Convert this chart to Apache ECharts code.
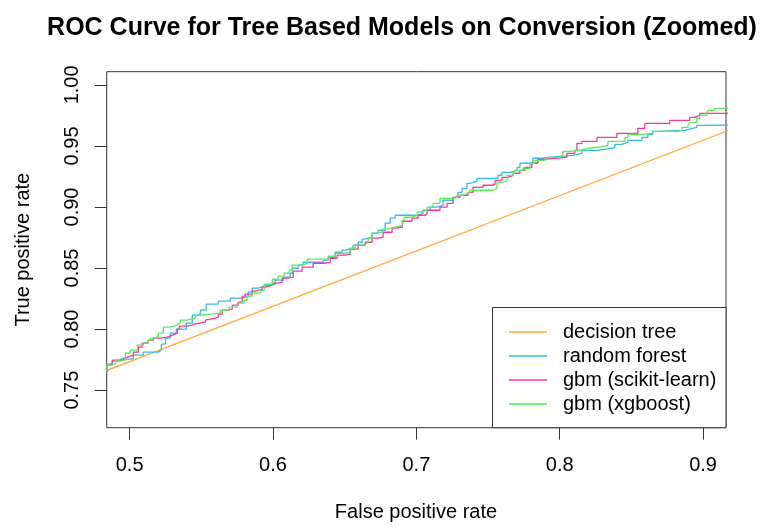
<!DOCTYPE html>
<html>
<head>
<meta charset="utf-8">
<script src="https://cdn.jsdelivr.net/npm/echarts@6/dist/echarts.min.js"></script>
<style>
html,body{margin:0;padding:0;background:#fff;}
#chart{width:762px;height:528px;}
</style>
</head>
<body>
<div id="chart"></div>
<script>
// ---- data ----
const seriesNames = ['decision tree', 'random forest', 'gbm (scikit-learn)', 'gbm (xgboost)'];
const xTicks = [0.5, 0.6, 0.7, 0.8, 0.9];
const yTicks = [0.75, 0.80, 0.85, 0.90, 0.95, 1.00];

// decision tree: single operating point, straight ROC
const dtFpr = [0, 0.15, 1];
const dtTpr = [0, 0.6147, 1];

// random forest
const rfFpr = [0.47, 0.4843, 0.4879, 0.4935, 0.5026, 0.5095, 0.5200, 0.5221, 0.5249, 0.5284, 0.5325, 0.5395, 0.5437, 0.5493, 0.5534, 0.5618, 0.5702, 0.5785, 0.5827, 0.5855, 0.5897, 0.5939, 0.6015, 0.6071, 0.6120, 0.6134, 0.6176, 0.6210, 0.6350, 0.6385, 0.6433, 0.6482, 0.6503, 0.6559, 0.6594, 0.6622, 0.6643, 0.6691, 0.6733, 0.6782, 0.6817, 0.6852, 0.7005, 0.7046, 0.7095, 0.7144, 0.7186, 0.7256, 0.7291, 0.7318, 0.7353, 0.7374, 0.7423, 0.7569, 0.7597, 0.7653, 0.7702, 0.7723, 0.7778, 0.7813, 0.7883, 0.7918, 0.8092, 0.8155, 0.8266, 0.8364, 0.8385, 0.8433, 0.8475, 0.8573, 0.8615, 0.8648, 0.8677, 0.8872, 0.8928, 0.8956, 0.9033, 1];
const rfTpr = [0.7650, 0.7705, 0.7737, 0.7754, 0.7786, 0.7811, 0.7827, 0.7876, 0.7926, 0.7966, 0.7999, 0.8048, 0.8114, 0.8155, 0.8204, 0.8228, 0.8253, 0.8269, 0.8302, 0.8335, 0.8351, 0.8367, 0.8400, 0.8425, 0.8457, 0.8498, 0.8523, 0.8547, 0.8564, 0.8588, 0.8629, 0.8646, 0.8662, 0.8687, 0.8711, 0.8736, 0.8752, 0.8785, 0.8809, 0.8867, 0.8908, 0.8932, 0.8948, 0.8973, 0.8998, 0.9014, 0.9055, 0.9079, 0.9120, 0.9153, 0.9194, 0.9210, 0.9235, 0.9259, 0.9284, 0.9300, 0.9325, 0.9358, 0.9366, 0.9399, 0.9407, 0.9423, 0.9439, 0.9464, 0.9480, 0.9489, 0.9513, 0.9529, 0.9546, 0.9570, 0.9595, 0.9620, 0.9628, 0.9644, 0.9652, 0.9669, 0.9685, 1];

// gbm (scikit-learn)
const skFpr = [0.47, 0.4843, 0.4852, 0.4879, 0.4956, 0.4970, 0.5005, 0.5026, 0.5061, 0.5088, 0.5130, 0.5165, 0.5214, 0.5263, 0.5298, 0.5332, 0.5346, 0.5388, 0.5437, 0.5451, 0.5528, 0.5541, 0.5597, 0.5618, 0.5646, 0.5688, 0.5716, 0.5757, 0.5785, 0.5806, 0.5855, 0.5876, 0.5925, 0.5946, 0.5995, 0.6036, 0.6064, 0.6106, 0.6141, 0.6203, 0.6280, 0.6350, 0.6399, 0.6447, 0.6503, 0.6538, 0.6594, 0.6643, 0.6691, 0.6733, 0.6768, 0.6831, 0.6845, 0.6901, 0.6907, 0.6970, 0.7012, 0.7061, 0.7075, 0.7165, 0.7214, 0.7256, 0.7305, 0.7360, 0.7395, 0.7465, 0.7528, 0.7549, 0.7597, 0.7639, 0.7674, 0.7723, 0.7757, 0.7806, 0.7848, 0.7897, 0.7966, 0.8050, 0.8106, 0.8120, 0.8155, 0.8260, 0.8399, 0.8545, 0.8594, 0.8768, 0.8907, 0.8942, 0.8977, 1];
const skTpr = [0.7650, 0.7705, 0.7721, 0.7745, 0.7762, 0.7778, 0.7786, 0.7811, 0.7852, 0.7885, 0.7909, 0.7926, 0.7934, 0.7950, 0.7966, 0.7999, 0.8024, 0.8032, 0.8040, 0.8056, 0.8073, 0.8089, 0.8097, 0.8122, 0.8155, 0.8163, 0.8196, 0.8220, 0.8269, 0.8286, 0.8310, 0.8326, 0.8343, 0.8359, 0.8376, 0.8384, 0.8417, 0.8425, 0.8474, 0.8507, 0.8539, 0.8547, 0.8580, 0.8605, 0.8613, 0.8654, 0.8687, 0.8711, 0.8744, 0.8752, 0.8793, 0.8826, 0.8834, 0.8850, 0.8883, 0.8908, 0.8932, 0.8948, 0.8973, 0.8998, 0.9030, 0.9079, 0.9096, 0.9120, 0.9161, 0.9178, 0.9186, 0.9218, 0.9243, 0.9259, 0.9276, 0.9300, 0.9325, 0.9358, 0.9390, 0.9399, 0.9407, 0.9439, 0.9464, 0.9521, 0.9538, 0.9570, 0.9603, 0.9644, 0.9685, 0.9709, 0.9734, 0.9750, 0.9767, 1];

// gbm (xgboost)
const xgFpr = [0.47, 0.4843, 0.4900, 0.4970, 0.5005, 0.5054, 0.5095, 0.5130, 0.5144, 0.5179, 0.5200, 0.5235, 0.5284, 0.5332, 0.5353, 0.5402, 0.5458, 0.5493, 0.5632, 0.5695, 0.5751, 0.5799, 0.5820, 0.5855, 0.5911, 0.5939, 0.5995, 0.6036, 0.6078, 0.6113, 0.6134, 0.6210, 0.6238, 0.6385, 0.6433, 0.6503, 0.6538, 0.6573, 0.6622, 0.6643, 0.6664, 0.6691, 0.6733, 0.6761, 0.6796, 0.6852, 0.6901, 0.6915, 0.6970, 0.7005, 0.7026, 0.7075, 0.7117, 0.7165, 0.7256, 0.7284, 0.7326, 0.7360, 0.7374, 0.7535, 0.7562, 0.7604, 0.7632, 0.7674, 0.7688, 0.7744, 0.7792, 0.7827, 0.7883, 0.7918, 0.8001, 0.8022, 0.8071, 0.8176, 0.8197, 0.8266, 0.8336, 0.8455, 0.8475, 0.8573, 0.8650, 0.8824, 0.8852, 0.8894, 0.8907, 0.8956, 0.8977, 0.9026, 0.9033, 0.9082, 1];
const xgTpr = [0.7660, 0.7713, 0.7745, 0.7803, 0.7827, 0.7868, 0.7885, 0.7909, 0.7926, 0.7942, 0.7966, 0.8016, 0.8032, 0.8048, 0.8073, 0.8089, 0.8114, 0.8130, 0.8155, 0.8179, 0.8212, 0.8236, 0.8269, 0.8294, 0.8318, 0.8367, 0.8408, 0.8433, 0.8457, 0.8482, 0.8523, 0.8539, 0.8572, 0.8597, 0.8621, 0.8629, 0.8662, 0.8687, 0.8695, 0.8711, 0.8744, 0.8785, 0.8793, 0.8818, 0.8834, 0.8850, 0.8891, 0.8916, 0.8932, 0.8957, 0.8973, 0.8998, 0.9030, 0.9071, 0.9079, 0.9096, 0.9112, 0.9120, 0.9137, 0.9153, 0.9202, 0.9218, 0.9259, 0.9276, 0.9300, 0.9317, 0.9358, 0.9382, 0.9390, 0.9407, 0.9423, 0.9456, 0.9472, 0.9480, 0.9489, 0.9505, 0.9538, 0.9570, 0.9595, 0.9603, 0.9620, 0.9628, 0.9652, 0.9669, 0.9693, 0.9726, 0.9750, 0.9767, 0.9791, 0.9808, 1];

const colors = ['#FFAA33', '#33BBEE', '#FF3399', '#55EE55'];

// ---- chart ----
const zip = (a, b) => a.map((v, i) => [v, b[i]]);
const FONT = '"Liberation Sans", Arial, Helvetica, sans-serif';
const chart = echarts.init(document.getElementById('chart'), null, {renderer: 'canvas'});

const gridL = 106.7, gridT = 71.7, gridW = 619.3, gridH = 356;

const option = {
  backgroundColor: '#ffffff',
  animation: false,
  textStyle: {fontFamily: FONT},
  grid: {left: gridL, top: gridT, width: gridW, height: gridH, show: true, borderColor: '#333', borderWidth: 1, backgroundColor: 'transparent'},
  xAxis: {
    type: 'value', min: 0.484, max: 0.916,
    axisLine: {show: false},
    splitLine: {show: false},
    axisTick: {show: true, length: 12, customValues: xTicks, lineStyle: {color: '#333', width: 1}},
    axisLabel: {customValues: xTicks, margin: 28, fontSize: 20, color: '#000', fontFamily: FONT, formatter: v => v.toFixed(1)}
  },
  yAxis: {
    type: 'value', min: 0.7192, max: 1.0108,
    axisLine: {show: false},
    splitLine: {show: false},
    axisTick: {show: true, length: 12, customValues: yTicks, lineStyle: {color: '#333', width: 1}},
    axisLabel: {customValues: yTicks, margin: 24, rotate: 90, fontSize: 20, color: '#000', fontFamily: FONT, formatter: v => v.toFixed(2)}
  },
  legend: {
    show: true, orient: 'vertical', left: 509, top: 322, z: 20, padding: 0,
    selectedMode: false,
    icon: 'rect', itemWidth: 38, itemHeight: 1.6, itemGap: 4,
    data: seriesNames,
    textStyle: {fontSize: 20, lineHeight: 20, color: '#000', fontFamily: FONT, padding: [0, 0, 0, 11]}
  },
  graphic: [
    {type: 'rect', z: 10, shape: {x: 492.5, y: 307.5, width: 233.5, height: 120.2}, style: {fill: '#fff', stroke: '#333', lineWidth: 1}},
    {type: 'text', z: 10, x: 402, y: 28, style: {text: 'ROC Curve for Tree Based Models on Conversion (Zoomed)', font: 'bold 25px ' + FONT, fill: '#000', align: 'center', verticalAlign: 'middle'}},
    {type: 'text', z: 10, x: 416, y: 512, style: {text: 'False positive rate', font: '20px ' + FONT, fill: '#000', align: 'center', verticalAlign: 'middle'}},
    {type: 'text', z: 10, x: 23, y: 249.7, rotation: Math.PI / 2, style: {text: 'True positive rate', font: '20px ' + FONT, fill: '#000', align: 'center', verticalAlign: 'middle'}}
  ],
  series: [
    {name: seriesNames[0], type: 'line', data: zip(dtFpr, dtTpr), showSymbol: false, clip: true, color: colors[0], lineStyle: {width: 1.3, color: colors[0]}},
    {name: seriesNames[1], type: 'line', step: 'end', data: zip(rfFpr, rfTpr), showSymbol: false, clip: true, color: colors[1], lineStyle: {width: 1.3, color: colors[1]}},
    {name: seriesNames[2], type: 'line', step: 'end', data: zip(skFpr, skTpr), showSymbol: false, clip: true, color: colors[2], lineStyle: {width: 1.3, color: colors[2]}},
    {name: seriesNames[3], type: 'line', step: 'end', data: zip(xgFpr, xgTpr), showSymbol: false, clip: true, color: colors[3], lineStyle: {width: 1.3, color: colors[3]}}
  ]
};
chart.setOption(option);
</script>
</body>
</html>
